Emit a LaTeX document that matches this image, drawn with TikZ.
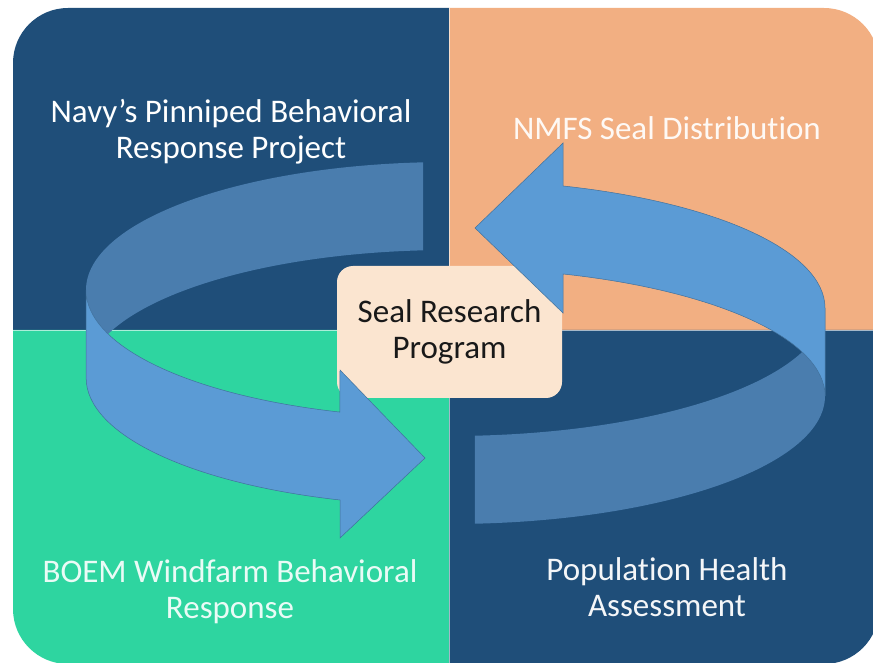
\documentclass[tikz,border=0pt]{standalone}
\usepackage{fontspec}
\setmainfont{Carlito}[Ligatures={TeX,NoCommon}]
\usetikzlibrary{positioning}

\definecolor{quadnavy}{HTML}{1F4E79}
\definecolor{quadpeach}{HTML}{F2AF82}
\definecolor{quadteal}{HTML}{2ED5A0}
\definecolor{hubfill}{HTML}{FBE5D0}
\definecolor{ringfront}{HTML}{5B9BD5}
\definecolor{ringback}{HTML}{4A7DAE}
\definecolor{ringedge}{HTML}{41719C}

\begin{document}
\begin{tikzpicture}[x=1pt, y=1pt,
  lbl/.style={font=\fontsize{33}{36}\selectfont, align=center, inner sep=0pt},
  hub/.style={lbl, fill=hubfill, rounded corners=16pt, minimum width=225pt,
    minimum height=132pt, text=black!90},
  ringfront/.style={fill=ringfront, draw=ringedge, line width=0.5pt},
  ringback/.style={fill=ringback}]

\useasboundingbox (0,0) rectangle (873,662);

% quadrants
\fill[quadnavy] (449,332) -- (449,654) -- (68,654) arc[start angle=90, end angle=180, radius=55] -- (13,332) -- cycle;
\fill[quadpeach] (449,332) -- (449,654) -- (824,654) arc[start angle=90, end angle=0, radius=55] -- (879,332) -- cycle;
\fill[quadteal] (449,332) -- (449,-2) -- (68,-2) arc[start angle=270, end angle=180, radius=55] -- (13,332) -- cycle;
\fill[quadnavy] (449,332) -- (449,-2) -- (824,-2) arc[start angle=-90, end angle=0, radius=55] -- (879,332) -- cycle;
\draw[white, opacity=0.6, line width=0.8pt] (449,-2) -- (449,654) (13,332) -- (879,332);

\node[lbl, text=white] (navy) at (231,530) {Navy’s Pinniped Behavioral\\Response Project};
\node[lbl, text=white!92!quadpeach] (nmfs) at (667,534) {NMFS Seal Distribution};
\node[lbl, text=white!90!quadteal] (boem) at (230,70) {BOEM Windfarm Behavioral\\Response};
\node[lbl, text=white!95!quadnavy] (health) at (667,74.5) {Population Health\\Assessment};

\node[hub] (seal) at (449.5,330) {Seal Research\\Program};

% back of the ring
\fill[ringback] (86,372) arc[start angle=180, end angle=94.1, x radius=363, y radius=128]
  -- ++(0,-88) arc[start angle=94.1, end angle=180, x radius=363, y radius=128] -- cycle;
\fill[ringback] (825,354) arc[start angle=0, end angle=-86.18, x radius=375, y radius=128]
  -- ++(0,-88) arc[start angle=-86.18, end angle=0, x radius=375, y radius=128] -- cycle;

% front of the ring, with the heads
\filldraw[ringfront] (86,372) arc[start angle=180, end angle=252.5, x radius=363, y radius=128]
  -- (340,292) -- (425,204) -- (340,124) -- (340,162)
  arc[start angle=252.5, end angle=180, x radius=363, y radius=128] -- cycle;
\filldraw[ringfront] (825,354) arc[start angle=0, end angle=72.46, x radius=375, y radius=128]
  -- (563,519) -- (475,434) -- (563,349) -- (563,388)
  arc[start angle=72.46, end angle=0, x radius=375, y radius=128] -- cycle;

\end{tikzpicture}
\end{document}
